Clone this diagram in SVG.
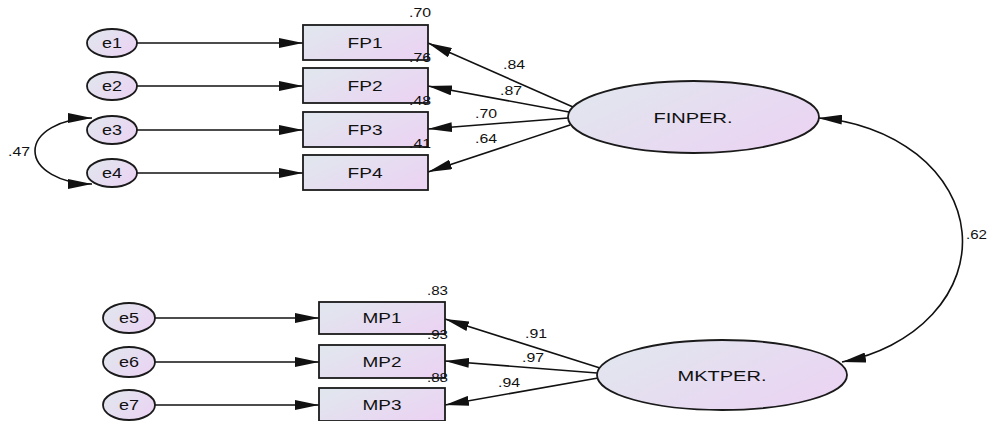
<svg xmlns="http://www.w3.org/2000/svg" width="987" height="421" viewBox="0 0 987 421">
<defs>
<linearGradient id="g" x1="0" y1="0.2" x2="1" y2="0.8">
<stop offset="0" stop-color="#e1e6ee"/>
<stop offset="1" stop-color="#ebd3f3"/>
</linearGradient>
<marker id="ah" markerUnits="userSpaceOnUse" viewBox="0 0 24 10" refX="24" refY="5" markerWidth="24" markerHeight="10" orient="auto-start-reverse">
<path d="M0,0 L24,5 L0,10 z" fill="#111"/>
</marker>
</defs>
<style>
.n{fill:url(#g);stroke:#1a1a1a;stroke-width:1.8}
.t{font-family:"Liberation Sans",Arial,sans-serif;font-size:15px;fill:#111;text-anchor:middle}
.l{font-family:"Liberation Sans",Arial,sans-serif;font-size:12px;fill:#111}
.c{fill:none;stroke:#111;stroke-width:1.6}
.a{marker-end:url(#ah)}
.b{marker-start:url(#ah);marker-end:url(#ah)}
</style>
<rect width="987" height="421" fill="#fff"/>

<g id="connectors">
<path class="c a" d="M137,43 L303,43"/>
<path class="c a" d="M137,86 L303,86"/>
<path class="c a" d="M137,130 L303,130"/>
<path class="c a" d="M137,173 L303,173"/>
<path class="c a" d="M573,107 L428,43"/>
<path class="c a" d="M569,112 L428,86"/>
<path class="c a" d="M568,118 L428,129"/>
<path class="c a" d="M570,125 L428,172"/>
<path class="c b" d="M92,118 A57,33 0 0 0 92,184"/>
<path class="c a" d="M155,318 L319,318"/>
<path class="c a" d="M155,362 L319,362"/>
<path class="c a" d="M155,405 L319,405"/>
<path class="c a" d="M600,368 L445,319"/>
<path class="c a" d="M597,373 L445,361"/>
<path class="c a" d="M598,378 L445,405"/>
<path class="c b" d="M818,118 A158,124 0 0 1 842,362"/>
</g>

<g id="e1"><ellipse class="n" cx="112" cy="43" rx="25" ry="14"/><text class="t" x="112" y="48" textLength="20" lengthAdjust="spacingAndGlyphs">e1</text></g>
<g id="e2"><ellipse class="n" cx="112" cy="86" rx="25" ry="14"/><text class="t" x="112" y="91" textLength="20" lengthAdjust="spacingAndGlyphs">e2</text></g>
<g id="e3"><ellipse class="n" cx="112" cy="130" rx="25" ry="14"/><text class="t" x="112" y="135" textLength="20" lengthAdjust="spacingAndGlyphs">e3</text></g>
<g id="e4"><ellipse class="n" cx="112" cy="173" rx="25" ry="14"/><text class="t" x="112" y="178" textLength="20" lengthAdjust="spacingAndGlyphs">e4</text></g>

<g id="FP1"><rect class="n" x="303" y="25" width="125" height="35"/><text class="t" x="365" y="47.5" textLength="35" lengthAdjust="spacingAndGlyphs">FP1</text></g>
<g id="FP2"><rect class="n" x="303" y="68" width="125" height="35"/><text class="t" x="365" y="90.5" textLength="35" lengthAdjust="spacingAndGlyphs">FP2</text></g>
<g id="FP3"><rect class="n" x="303" y="112" width="125" height="35"/><text class="t" x="365" y="134.5" textLength="35" lengthAdjust="spacingAndGlyphs">FP3</text></g>
<g id="FP4"><rect class="n" x="303" y="155" width="125" height="35"/><text class="t" x="365" y="177.5" textLength="35" lengthAdjust="spacingAndGlyphs">FP4</text></g>

<g id="FINPER"><ellipse class="n" cx="693.5" cy="117" rx="125.5" ry="36"/><text class="t" x="693" y="122.5" textLength="79" lengthAdjust="spacingAndGlyphs">FINPER.</text></g>

<g id="e5"><ellipse class="n" cx="129" cy="318" rx="26" ry="15"/><text class="t" x="129" y="323" textLength="20" lengthAdjust="spacingAndGlyphs">e5</text></g>
<g id="e6"><ellipse class="n" cx="129" cy="362" rx="26" ry="15"/><text class="t" x="129" y="367" textLength="20" lengthAdjust="spacingAndGlyphs">e6</text></g>
<g id="e7"><ellipse class="n" cx="129" cy="405" rx="26" ry="15"/><text class="t" x="129" y="410" textLength="20" lengthAdjust="spacingAndGlyphs">e7</text></g>

<g id="MP1"><rect class="n" x="319" y="302" width="126" height="32"/><text class="t" x="382" y="323" textLength="39" lengthAdjust="spacingAndGlyphs">MP1</text></g>
<g id="MP2"><rect class="n" x="319" y="345" width="126" height="33"/><text class="t" x="382" y="366.5" textLength="39" lengthAdjust="spacingAndGlyphs">MP2</text></g>
<g id="MP3"><rect class="n" x="319" y="388" width="126" height="33"/><text class="t" x="382" y="409.5" textLength="39" lengthAdjust="spacingAndGlyphs">MP3</text></g>

<g id="MKTPER"><ellipse class="n" cx="722" cy="375" rx="125" ry="35"/><text class="t" x="722" y="380.5" textLength="89" lengthAdjust="spacingAndGlyphs">MKTPER.</text></g>

<g id="labels">
<text class="l" x="409" y="17" textLength="22" lengthAdjust="spacingAndGlyphs">.70</text>
<text class="l" x="409" y="62" textLength="22" lengthAdjust="spacingAndGlyphs">.76</text>
<text class="l" x="409" y="105" textLength="22" lengthAdjust="spacingAndGlyphs">.48</text>
<text class="l" x="409" y="148" textLength="22" lengthAdjust="spacingAndGlyphs">.41</text>
<text class="l" x="503" y="69" textLength="22" lengthAdjust="spacingAndGlyphs">.84</text>
<text class="l" x="500" y="95" textLength="22" lengthAdjust="spacingAndGlyphs">.87</text>
<text class="l" x="475" y="118" textLength="22" lengthAdjust="spacingAndGlyphs">.70</text>
<text class="l" x="475" y="143" textLength="22" lengthAdjust="spacingAndGlyphs">.64</text>
<text class="l" x="8" y="156" textLength="22" lengthAdjust="spacingAndGlyphs">.47</text>
<text class="l" x="966" y="239" textLength="21" lengthAdjust="spacingAndGlyphs">.62</text>
<text class="l" x="427" y="295" textLength="21" lengthAdjust="spacingAndGlyphs">.83</text>
<text class="l" x="427" y="339" textLength="21" lengthAdjust="spacingAndGlyphs">.93</text>
<text class="l" x="427" y="382" textLength="21" lengthAdjust="spacingAndGlyphs">.88</text>
<text class="l" x="525" y="338" textLength="22" lengthAdjust="spacingAndGlyphs">.91</text>
<text class="l" x="522" y="362" textLength="22" lengthAdjust="spacingAndGlyphs">.97</text>
<text class="l" x="498" y="387" textLength="22" lengthAdjust="spacingAndGlyphs">.94</text>
</g>
</svg>
